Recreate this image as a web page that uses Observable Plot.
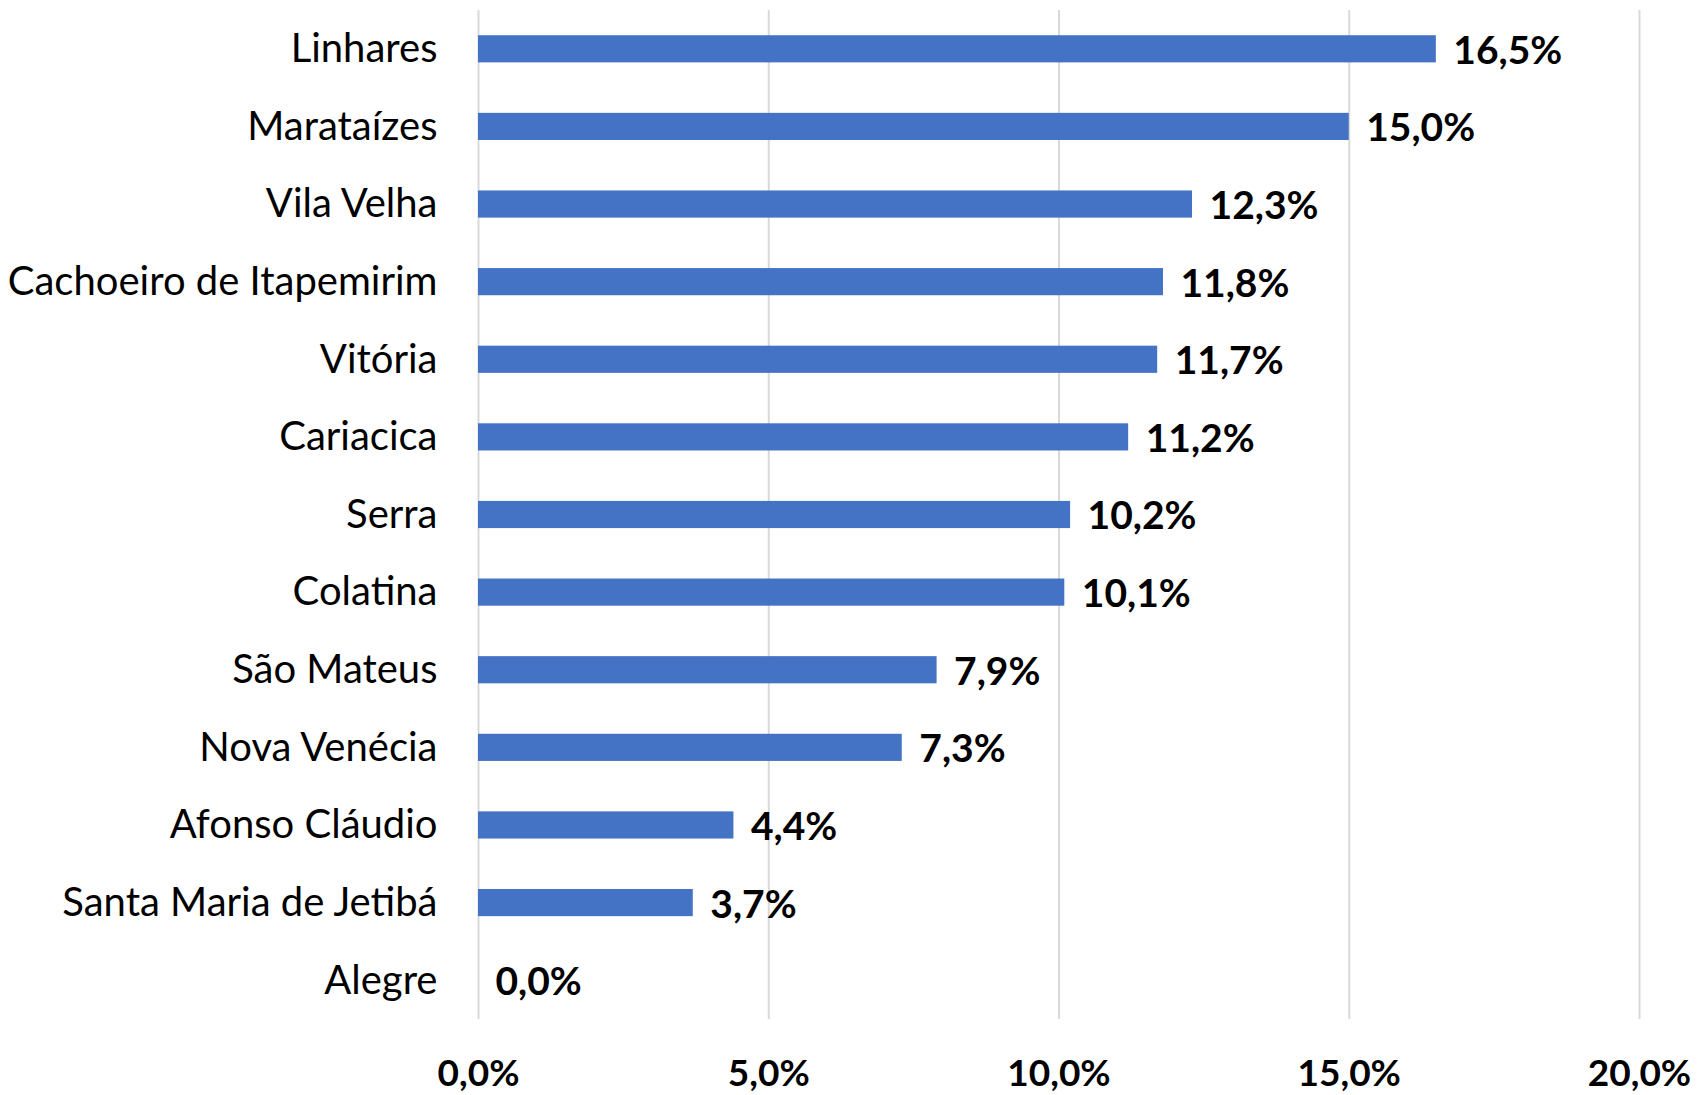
<!DOCTYPE html>
<html>
<head>
<meta charset="utf-8">
<script src="https://cdn.jsdelivr.net/npm/d3@7"></script>
<script src="https://cdn.jsdelivr.net/npm/@observablehq/plot@0.6"></script>
<style>
  html, body { margin: 0; padding: 0; background: #fff; }
  #chart svg { display: block; }
</style>
</head>
<body>
<div id="chart"></div>
<script>
const municipios = ["Linhares", "Marataízes", "Vila Velha", "Cachoeiro de Itapemirim", "Vitória", "Cariacica", "Serra", "Colatina", "São Mateus", "Nova Venécia", "Afonso Cláudio", "Santa Maria de Jetibá", "Alegre"];
const valores = [16.5, 15.0, 12.3, 11.8, 11.7, 11.2, 10.2, 10.1, 7.9, 7.3, 4.4, 3.7, 0.0];
const xTicks = [0, 5, 10, 15, 20];

const data = municipios.map((m, i) => ({municipio: m, valor: valores[i]}));
const fmt = v => d3.format(".1f")(v).replace(".", ",") + "%";

const chart = Plot.plot({
  width: 1698,
  height: 1095,
  marginLeft: 478,
  marginRight: 59,
  marginTop: 10,
  marginBottom: 76,
  style: {fontFamily: "Lato, 'Open Sans', sans-serif", fontSize: "38px", color: "#000", background: "#fff"},
  x: {domain: [0, 20]},
  y: {domain: municipios, paddingInner: 0.65, paddingOuter: 0.325, round: false},
  marks: [
    Plot.gridX(xTicks, {stroke: "#d9d9d9", strokeOpacity: 1, strokeWidth: 2}),
    Plot.barX(data, {x: "valor", y: "municipio", fill: "#4472C4"}),
    Plot.text(data, {x: "valor", y: "municipio", text: d => fmt(d.valor), dx: 17, dy: 2, textAnchor: "start", fontWeight: "bold", fontSize: 39, fill: "#000"}),
    Plot.axisY({tickSize: 0, tickPadding: 41, fontSize: 40, label: null}),
    Plot.axisX({ticks: xTicks, tickSize: 0, tickPadding: 40, tickFormat: fmt, fontWeight: "bold", fontSize: 37, label: null})
  ]
});
document.getElementById("chart").appendChild(chart);
</script>
</body>
</html>
